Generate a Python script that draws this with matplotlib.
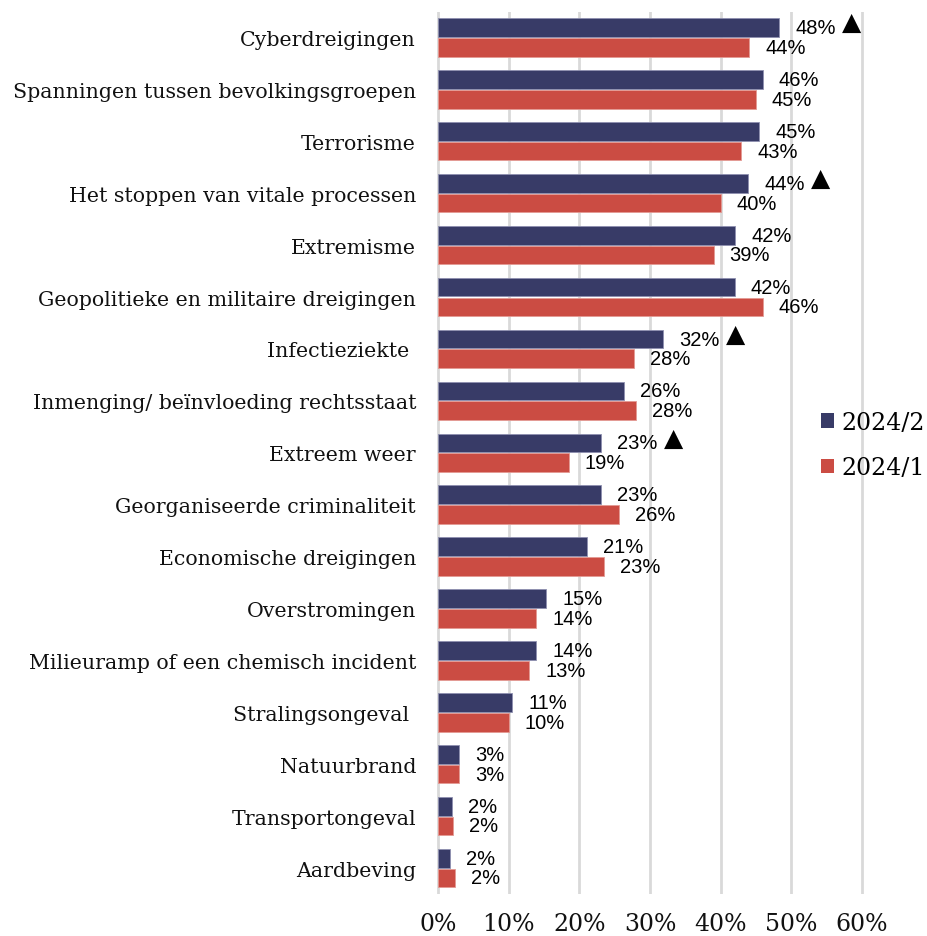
import matplotlib
matplotlib.use("Agg")
import matplotlib.pyplot as plt
from matplotlib.patches import Patch
import numpy as np

# categories, top to bottom
categories = [
    "Cyberdreigingen",
    "Spanningen tussen bevolkingsgroepen",
    "Terrorisme",
    "Het stoppen van vitale processen",
    "Extremisme",
    "Geopolitieke en militaire dreigingen",
    "Infectieziekte ",
    "Inmenging/ beïnvloeding rechtsstaat",
    "Extreem weer",
    "Georganiseerde criminaliteit",
    "Economische dreigingen",
    "Overstromingen",
    "Milieuramp of een chemisch incident",
    "Stralingsongeval ",
    "Natuurbrand",
    "Transportongeval",
    "Aardbeving",
]

# values (%)
wave_2 = [48.3, 46.0, 45.5, 43.9, 42.1, 42.0, 31.9, 26.3, 23.1, 23.0,
          21.1, 15.3, 13.9, 10.5, 2.9, 1.9, 1.7]
wave_1 = [44.1, 45.0, 42.9, 40.0, 39.0, 46.0, 27.7, 28.0, 18.5, 25.6,
          23.5, 13.9, 12.9, 10.0, 3.0, 2.1, 2.4]

# printed labels
labels_2 = [48, 46, 45, 44, 42, 42, 32, 26, 23, 23, 21, 15, 14, 11, 3, 2, 2]
labels_1 = [44, 45, 43, 40, 39, 46, 28, 28, 19, 26, 23, 14, 13, 10, 3, 2, 2]

# significant rise marker
rising = [True, False, False, True, False, False, True, False, True,
          False, False, False, False, False, False, False, False]

series_names = ["2024/2", "2024/1"]
navy = "#383B67"
red = "#CB4C43"

fig = plt.figure(figsize=(9.27, 9.37), dpi=100)
# pad x range a little so the 0% and 60% gridlines are not clipped
px = 423.4 / 60
ax = fig.add_axes([(438.3 - 0.3 * px) / 927, 42 / 937, (423.4 + 0.6 * px) / 927, 882.5 / 937])

y = np.arange(len(categories))
h = 0.36
off = 0.19

ax.barh(y - off, wave_2, height=h, color=navy, edgecolor="#8E90B0", linewidth=0.6, zorder=3)
ax.barh(y + off, wave_1, height=h, color=red, edgecolor="#E39A94", linewidth=0.6, zorder=3)

val_font = dict(family=["Liberation Sans", "DejaVu Sans"], fontsize=14.5, color="black")
for i in range(len(categories)):
    ax.annotate(f"{labels_2[i]}%", (wave_2[i], y[i] - off), xytext=(11.5, 0),
                textcoords="offset points", va="center", ha="left", **val_font)
    ax.annotate(f"{labels_1[i]}%", (wave_1[i], y[i] + off), xytext=(11.5, 0),
                textcoords="offset points", va="center", ha="left", **val_font)
    if rising[i]:
        ax.annotate("▲", (wave_2[i], y[i] - off - 0.1), xytext=(52, 0),
                    textcoords="offset points", va="center", ha="center",
                    fontsize=18, family="DejaVu Sans", color="black")

ax.set_xlim(-0.3, 60.3)
ax.set_ylim(len(categories) - 0.5, -0.5)
ax.set_xticks(np.arange(0, 61, 10))
ax.set_xticklabels([f"{v}%" for v in range(0, 61, 10)])
ax.set_yticks(y)
ax.set_yticklabels(categories)
ax.tick_params(axis="y", length=0, pad=14.5, labelsize=14.8)
ax.tick_params(axis="x", length=0, pad=13, labelsize=17)
for lab in ax.get_yticklabels() + ax.get_xticklabels():
    lab.set_family("DejaVu Serif")
    lab.set_color("#111111")

ax.grid(True, axis="x", color="#D9D9D9", linewidth=2, zorder=0)
for s in ax.spines.values():
    s.set_visible(False)

handles = [Patch(facecolor=navy), Patch(facecolor=red)]
fig.legend(handles, series_names, loc="center left", bbox_to_anchor=(821 / 927, 1 - 446 / 937),
           frameon=False, handlelength=0.55, handleheight=0.55, handletextpad=0.3,
           labelspacing=0.95, borderpad=0, borderaxespad=0,
           prop={"family": "DejaVu Serif", "size": 17})

fig.savefig("out.png", dpi=100)
